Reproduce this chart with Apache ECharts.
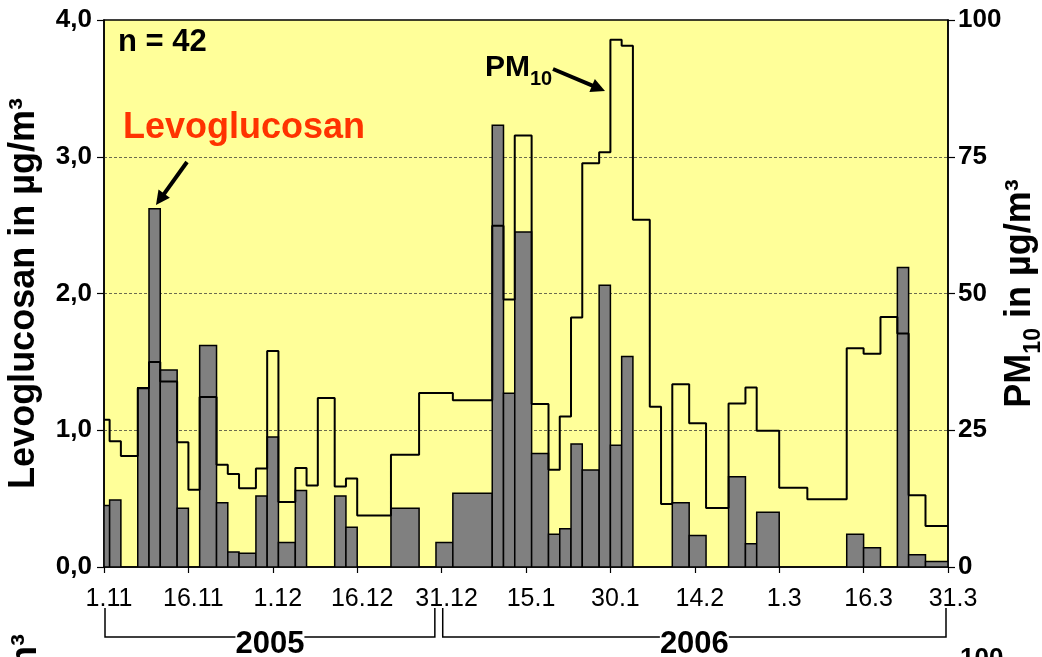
<!DOCTYPE html>
<html><head><meta charset="utf-8">
<script src="https://cdn.jsdelivr.net/npm/echarts@6/dist/echarts.min.js"></script>
<style>html,body{margin:0;padding:0;background:#fff}#c{width:1042px;height:657px}</style>
</head><body><div id="c"></div>
<script>
// Sampling periods as day offsets from 1.11.2005 (boundaries, contiguous)
const dayBounds = [0,1,3,6,8,10,13,15,17,20,22,24,27,29,31,34,36,38,41,43,45,51,56,59,62,69,71,73,76,79,81,83,85,88,90,92,94,97,99,101,104,107,111,114,116,120,125,132,135,138,141,143,146,150];
// Levoglucosan in µg/m³ per period
const levoglucosan = [0.45,0.49,0,1.31,2.62,1.44,0.43,0,1.62,0.47,
  0.11,0.10,0.52,0.95,0.18,0.56,0,0,0.52,0.29,
  0,0.43,0,0.18,0.54,3.23,1.27,2.45,0.83,0.24,
  0.28,0.90,0.71,2.06,0.89,1.54,0,0,0,0.47,
  0.23,0,0.66,0.17,0.40,0,0,0.24,0.14,0,
  2.19,0.09,0.04];
// PM10 in µg/m³ per period
const pm10 = [26.9,23,20.3,32.7,37.5,33.9,22.8,14.1,31.1,18.7,
  17,14.4,18,39.5,11.9,18.1,14.9,30.9,14.7,16.2,
  9.4,20.5,31.8,31.8,30.5,62.4,48.9,78.9,29.8,17.8,
  27.5,45.6,73.8,75.8,96.4,95.3,63.5,29.3,11.5,33.4,
  26.3,10.8,29.9,32.8,24.9,14.5,12.4,40,39,45.7,
  42.7,13.1,7.5];
const xTickLabels = ['1.11','16.11','1.12','16.12','31.12','15.1','30.1','14.2','1.3','16.3','31.3'];
const yearLabels = ['2005','2006'];

const FONT = 'Liberation Sans, Arial, Helvetica, sans-serif';
const chart = echarts.init(document.getElementById('c'), null, {renderer:'canvas'});

const levoData = levoglucosan.map((v,i)=>[dayBounds[i], dayBounds[i+1], v]);
const pmData = pm10.map((v,i)=>[dayBounds[i], v]);
pmData.push([dayBounds[dayBounds.length-1], pm10[pm10.length-1]]);

function arrow(x1,y1,x2,y2,w,hl,hw){
  const dx=x2-x1, dy=y2-y1, L=Math.hypot(dx,dy), ux=dx/L, uy=dy/L, nx=-uy, ny=ux;
  const bx=x2-ux*hl, by=y2-uy*hl;
  return [
    {type:'line', shape:{x1:x1,y1:y1,x2:x2-ux*hl*0.7,y2:y2-uy*hl*0.7}, style:{stroke:'#000', lineWidth:w}, z:20},
    {type:'polygon', shape:{points:[[x2,y2],[bx+nx*hw,by+ny*hw],[bx-nx*hw,by-ny*hw]]}, style:{fill:'#000'}, z:20}
  ];
}
function bracket(x1,x2,yTop,yBot,label){
  return [
    {type:'polyline', shape:{points:[[x1,yTop],[x1,yBot],[x2,yBot],[x2,yTop]]}, style:{stroke:'#000', lineWidth:1.5, fill:null}, z:20},
    {type:'text', x:(x1+x2)/2, y:yBot-8, style:{text:label, font:'bold 31px '+FONT, fill:'#000', align:'center', verticalAlign:'top', backgroundColor:'#fff'}, z:21}
  ];
}

const option = {
  animation:false,
  grid:{left:104, right:94, top:20, bottom:90, containLabel:false, outerBoundsMode:'none',
        show:true, backgroundColor:'#FFFF99', borderColor:'#000', borderWidth:1.5},
  xAxis:{type:'value', min:0, max:150, interval:15,
    axisLine:{lineStyle:{color:'#000', width:1.5}},
    axisTick:{show:true, length:6, lineStyle:{color:'#000', width:1.2}},
    splitLine:{show:false},
    axisLabel:{formatter:v=>xTickLabels[Math.round(v/15)], fontSize:25, color:'#000', fontFamily:FONT, margin:20, padding:[0,0,0,10]}
  },
  yAxis:[
    {type:'value', min:0, max:4, interval:1, position:'left',
     name:'Levoglucosan in µg/m³', nameLocation:'middle', nameRotate:90, nameGap:62,
     nameTextStyle:{fontSize:36, fontWeight:'bold', color:'#000', fontFamily:FONT},
     axisLine:{show:true, lineStyle:{color:'#000', width:1.5}},
     axisTick:{show:true, length:7, lineStyle:{color:'#000', width:1.2}},
     axisLabel:{formatter:v=>v.toFixed(1).replace('.',','), fontSize:26, fontWeight:'bold', color:'#000', fontFamily:FONT, margin:12},
     splitLine:{show:true, showMinLine:false, showMaxLine:false, lineStyle:{color:'#6b6b50', width:1, type:[3,2]}}
    },
    {type:'value', min:0, max:100, interval:25, position:'right',
     name:'{a|PM}{b|10}{a| in µg/m³}', nameLocation:'middle', nameRotate:90, nameGap:54, nameMoveOverlap:false,
     nameTextStyle:{color:'#000', fontFamily:FONT, rich:{
       a:{fontSize:36, fontWeight:'bold', color:'#000', fontFamily:FONT, lineHeight:36, verticalAlign:'top'},
       b:{fontSize:23, fontWeight:'bold', color:'#000', fontFamily:FONT, lineHeight:23, verticalAlign:'top', padding:[20,0,0,0]}
     }},
     axisLine:{show:true, lineStyle:{color:'#000', width:1.5}},
     axisTick:{show:true, length:7, lineStyle:{color:'#000', width:1.2}},
     axisLabel:{fontSize:26, fontWeight:'bold', color:'#000', fontFamily:FONT, margin:10},
     splitLine:{show:false}
    }
  ],
  series:[
    {type:'custom', name:'Levoglucosan', xAxisIndex:0, yAxisIndex:0, data:levoData,
     encode:{x:[0,1], y:2}, clip:true, z:2,
     renderItem:function(params, api){
       const s=api.value(0), e=api.value(1), v=api.value(2);
       if (!v) return null;
       const p0=api.coord([s,v]), p1=api.coord([e,0]);
       return {type:'rect', shape:{x:p0[0], y:p0[1], width:p1[0]-p0[0], height:p1[1]-p0[1]},
               style:{fill:'#808080', stroke:'#000', lineWidth:1.5}};
     }
    },
    {type:'line', name:'PM10', xAxisIndex:0, yAxisIndex:1, data:pmData, step:'end',
     symbol:'none', lineStyle:{color:'#000', width:2}, z:5}
  ],
  graphic:[]
};
chart.setOption(option);

const g = [];
g.push({type:'text', x:118, y:27, style:{text:'n = 42', font:'bold 31px '+FONT, fill:'#000', verticalAlign:'top'}, z:20});
g.push({type:'text', x:123, y:110, style:{text:'Levoglucosan', font:'bold 36px '+FONT, fill:'#FF3300', verticalAlign:'top'}, z:20});
g.push({type:'text', x:485, y:53, style:{text:'{a|PM}{b|10}', verticalAlign:'top', rich:{
  a:{font:'bold 30px '+FONT, fill:'#000', lineHeight:30, verticalAlign:'top'},
  b:{font:'bold 20px '+FONT, fill:'#000', lineHeight:20, verticalAlign:'top', padding:[16,0,0,0]}
}}, z:20});
arrow(187,162,156,205,4,14,7).forEach(e=>g.push(e));
arrow(553,69,605,91,4,14,7).forEach(e=>g.push(e));
const xa = chart.convertToPixel({xAxisIndex:0}, 0);
const xm1 = chart.convertToPixel({xAxisIndex:0}, 58.8);
const xm2 = chart.convertToPixel({xAxisIndex:0}, 60.2);
const xb = chart.convertToPixel({xAxisIndex:0}, 150);
bracket(xa+1, xm1, 608, 637, yearLabels[0]).forEach(e=>g.push(e));
bracket(xm2, xb-2, 608, 637, yearLabels[1]).forEach(e=>g.push(e));
// partial labels from the chart below (cut off at the bottom edge)
g.push({type:'text', x:26, y:634, rotation:Math.PI/2, style:{text:'Levoglucosan in µg/m³', font:'bold 36px '+FONT, fill:'#000', align:'right', verticalAlign:'middle'}, z:20});
g.push({type:'text', x:960, y:646, style:{text:'100', font:'bold 26px '+FONT, fill:'#000', verticalAlign:'top'}, z:20});
chart.setOption({graphic:g});
</script></body></html>
